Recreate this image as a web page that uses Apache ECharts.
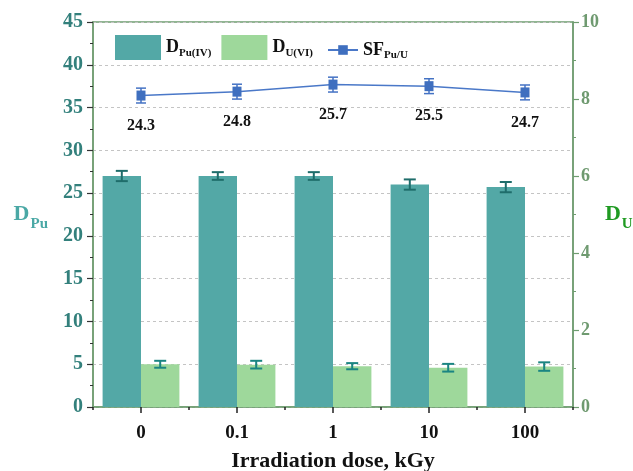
<!DOCTYPE html>
<html>
<head>
<meta charset="utf-8">
<script src="https://cdn.jsdelivr.net/npm/echarts@6/dist/echarts.min.js"></script>
<style>html,body{margin:0;padding:0;background:#fff}#c{width:633px;height:471px}</style>
</head>
<body>
<div id="c"></div>
<script>
const categories = ['0', '0.1', '1', '10', '100'];
const dPu = [27.0, 27.0, 27.0, 26.0, 25.7];
const dPuErr = [0.6, 0.45, 0.45, 0.6, 0.6];
const dU = [1.11, 1.10, 1.06, 1.02, 1.05];
const dUErr = [0.09, 0.1, 0.08, 0.1, 0.11];
const sf = [24.3, 24.8, 25.7, 25.5, 24.7];
const sfErr = [0.95, 0.95, 0.95, 0.95, 0.95];
const leftTicks = [0, 5, 10, 15, 20, 25, 30, 35, 40, 45];
const rightTicks = [0, 2, 4, 6, 8, 10];

const SERIF = '"Liberation Serif", "DejaVu Serif", serif';
const GREEN_AXIS = '#6f9d70';

function errRender(offsetSign, capW, color, lw) {
  return function (params, api) {
    const i = api.value(0), v = api.value(1), e = api.value(2);
    const band = api.size([1, 0])[0];
    const x = api.coord([i, v])[0] + offsetSign * band * 0.8 / 4;
    const yt = api.coord([i, v + e])[1];
    const yb = api.coord([i, v - e])[1];
    const st = { stroke: color, lineWidth: lw };
    return {
      type: 'group',
      children: [
        { type: 'line', shape: { x1: x, y1: yt, x2: x, y2: yb }, style: st },
        { type: 'line', shape: { x1: x - capW / 2, y1: yt, x2: x + capW / 2, y2: yt }, style: st },
        { type: 'line', shape: { x1: x - capW / 2, y1: yb, x2: x + capW / 2, y2: yb }, style: st }
      ]
    };
  };
}

const subRich = {
  m: { fontFamily: SERIF, fontWeight: 'bold', fontSize: 18, color: '#111', lineHeight: 22 },
  s: { fontFamily: SERIF, fontWeight: 'bold', fontSize: 11, color: '#111', verticalAlign: 'bottom', padding: [7, 0, 0, 0] }
};
const legendNames = { 'DPu(IV)': '{m|D}{s|Pu(IV)}', 'DU(VI)': '{m|D}{s|U(VI)}', 'SFPu/U': '{m|SF}{s|Pu/U}' };

function nameRich(color) {
  return {
    m: { fontFamily: SERIF, fontWeight: 'bold', fontSize: 22, color: color, lineHeight: 34 },
    s: { fontFamily: SERIF, fontWeight: 'bold', fontSize: 15, color: color, verticalAlign: 'bottom', padding: [12, 0, 0, 1] }
  };
}

const chart = echarts.init(document.getElementById('c'), null, { renderer: 'canvas' });
chart.setOption({
  animation: false,
  backgroundColor: '#fff',
  grid: {
    left: 93, right: 60, top: 22, bottom: 64, containLabel: false, outerBoundsMode: 'none',
    show: true, borderColor: GREEN_AXIS, borderWidth: 1.5, backgroundColor: 'transparent'
  },
  legend: [
    {
      data: ['DPu(IV)', 'DU(VI)'], left: 115, top: 35, padding: 0, itemWidth: 46, itemHeight: 25, itemGap: 10, icon: 'rect',
      formatter: n => legendNames[n], textStyle: { rich: subRich }
    },
    {
      data: ['SFPu/U'], left: 327, top: 41, padding: 0, itemWidth: 30, itemHeight: 12, itemGap: 10,
      formatter: n => legendNames[n], textStyle: { rich: subRich }
    }
  ],
  xAxis: [
    {
      type: 'category', data: categories, position: 'bottom',
      axisLine: { show: true, lineStyle: { color: GREEN_AXIS, width: 1.5 } },
      axisTick: { show: true, alignWithLabel: true, length: 6, lineStyle: { color: '#222', width: 1.5 } },
      axisLabel: { color: '#111', fontFamily: SERIF, fontWeight: 'bold', fontSize: 19, margin: 17 },
      name: 'Irradiation dose, kGy', nameLocation: 'middle', nameGap: 43,
      nameTextStyle: { color: '#111', fontFamily: SERIF, fontWeight: 'bold', fontSize: 22 },
      splitLine: { show: false }
    },
    {
      type: 'category', data: categories, position: 'top', offset: -385,
      axisLine: { show: false },
      axisTick: { show: true, inside: true, length: 3, lineStyle: { color: '#222', width: 1.5 } },
      axisLabel: { show: false }, splitLine: { show: false }
    }
  ],
  yAxis: [
    {
      type: 'value', min: leftTicks[0], max: leftTicks[leftTicks.length - 1], interval: 5, position: 'left',
      axisLine: { show: true, lineStyle: { color: GREEN_AXIS, width: 1.5 } },
      axisTick: { show: true, length: 6, lineStyle: { color: '#333', width: 1.2 } },
      minorTick: { show: true, splitNumber: 2, length: 3, lineStyle: { color: '#333', width: 1 } },
      axisLabel: { color: '#33807c', fontFamily: SERIF, fontWeight: 'bold', fontSize: 20, margin: 10 },
      splitLine: { show: true, lineStyle: { color: '#c4c4c4', type: [3, 3], width: 1 } },
      name: '{m|D}{s|Pu}', nameLocation: 'middle', nameRotate: 0, nameGap: 45,
      nameTextStyle: { rich: nameRich('#4aa8a5') }
    },
    {
      type: 'value', min: rightTicks[0], max: rightTicks[rightTicks.length - 1], interval: 2, position: 'right',
      axisLine: { show: true, lineStyle: { color: GREEN_AXIS, width: 1.5 } },
      axisTick: { show: true, length: 6, lineStyle: { color: GREEN_AXIS, width: 1.2 } },
      minorTick: { show: true, splitNumber: 2, length: 3, lineStyle: { color: GREEN_AXIS, width: 1 } },
      axisLabel: { color: '#6f9a70', fontFamily: SERIF, fontWeight: 'bold', fontSize: 18, margin: 8 },
      splitLine: { show: false },
      name: '{m|D}{s|U}', nameLocation: 'middle', nameRotate: 0, nameGap: 23,
      nameTextStyle: { rich: nameRich('#1f9a22') }
    },
    { type: 'value', min: -15.5, max: 33.7, show: false, splitLine: { show: false } }
  ],
  series: [
    {
      name: 'DPu(IV)', type: 'bar', data: dPu, yAxisIndex: 0, barGap: '0%', barCategoryGap: '20%',
      itemStyle: { color: '#53a8a6' }, z: 2
    },
    {
      name: 'DU(VI)', type: 'bar', data: dU, yAxisIndex: 1, barGap: '0%', barCategoryGap: '20%',
      itemStyle: { color: '#9ed89b' }, z: 2
    },
    {
      type: 'custom', yAxisIndex: 0, renderItem: errRender(-1, 12, '#1f6d6b', 2), z: 3,
      data: dPu.map((v, i) => [i, v, dPuErr[i]]), encode: { x: 0, y: 1 }, silent: true
    },
    {
      type: 'custom', yAxisIndex: 1, renderItem: errRender(1, 12, '#1a8582', 2), z: 3,
      data: dU.map((v, i) => [i, v, dUErr[i]]), encode: { x: 0, y: 1 }, silent: true
    },
    {
      type: 'custom', yAxisIndex: 2, renderItem: errRender(0, 10, '#4472c4', 1.5), z: 4,
      data: sf.map((v, i) => [i, v, sfErr[i]]), encode: { x: 0, y: 1 }, silent: true
    },
    {
      name: 'SFPu/U', type: 'line', data: sf, yAxisIndex: 2, z: 5,
      symbol: 'rect', symbolSize: [9, 10],
      lineStyle: { color: '#4a78c8', width: 1.5 },
      itemStyle: { color: '#3f6fbf' },
      label: {
        show: true, position: 'bottom', distance: 17,
        color: '#111', fontFamily: SERIF, fontWeight: 'bold', fontSize: 16,
        formatter: p => sf[p.dataIndex].toFixed(1)
      }
    }
  ]
});
</script>
</body>
</html>
